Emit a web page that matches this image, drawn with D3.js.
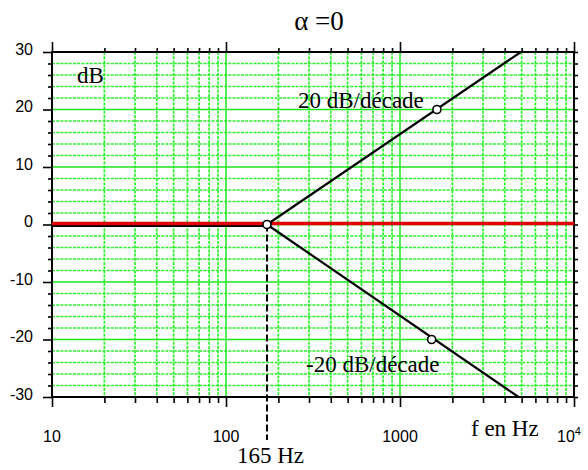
<!DOCTYPE html>
<html lang="en">
<head>
    <title>Bode</title>
    <script src="https://d3js.org/d3.v7.min.js"></script>
    <style>
        body { margin: 0; background: #fff; }
        .sans { font-family: "Liberation Sans", Arial, sans-serif; font-size: 16px; }
        .serif { font-family: "Liberation Serif", "Times New Roman", serif; font-size: 23px; }
    </style>
</head>
<body>

<script>
    // data
    const decades = [10, 100, 1000, 10000];
    const xLabels = ["10", "100", "1000", "10"];
    const yTicks = [-30, -20, -10, 0, 10, 20, 30];
    const cornerF = 172;
    const flatLine = [[10, 0], [cornerF, 0]];
    const refLine = [[10, 0], [10000, 0]];
    const riseLine = [[cornerF, 0], [4950, 30]];
    const fallLine = [[cornerF, 0], [4800, -30]];
    const markers = [[cornerF, 0], [1630, 20], [1520, -20]];

    const W = 588, H = 470;
    const x = d3.scaleLog().domain([10, 10000]).range([52, 574]);
    const y = d3.scaleLinear().domain([-30, 30]).range([397, 52]);

    const minorX = [];
    decades.slice(0, 3).forEach(d => { for (let k = 2; k <= 9; k++) minorX.push(k * d); });
    const minorY = d3.range(-28, 30, 2).filter(v => v % 10 !== 0);

    const svg = d3.select("body").append("svg").attr("width", W).attr("height", H);

    // grid
    const grid = svg.append("g");
    grid.selectAll(".mx").data(minorX).join("line")
        .attr("x1", d => x(d)).attr("x2", d => x(d)).attr("y1", y(30)).attr("y2", y(-30))
        .attr("stroke", "#2cf02c").attr("stroke-width", 1.7).attr("stroke-dasharray", "3,1.2");
    grid.selectAll(".my").data(minorY).join("line")
        .attr("y1", d => y(d)).attr("y2", d => y(d)).attr("x1", x(10)).attr("x2", x(10000))
        .attr("stroke", "#2cf02c").attr("stroke-width", 1.7).attr("stroke-dasharray", "3,1.2");
    grid.selectAll(".Mx").data(decades).join("line")
        .attr("x1", d => x(d)).attr("x2", d => x(d)).attr("y1", y(30)).attr("y2", y(-30))
        .attr("stroke", "#1ee61e").attr("stroke-width", 1.5);
    grid.selectAll(".My").data(yTicks).join("line")
        .attr("y1", d => y(d)).attr("y2", d => y(d)).attr("x1", x(10)).attr("x2", x(10000))
        .attr("stroke", "#1ee61e").attr("stroke-width", 1.5);

    // axes (ticks only; frame drawn after)
    function ticks(axis, vals, size, tr) {
        const g = svg.append("g").attr("transform", tr)
            .call(axis.tickValues(vals).tickSize(size).tickFormat(""));
        g.select(".domain").remove();
        g.selectAll(".tick line").attr("stroke", "#000").attr("stroke-width", 1.6);
    }
    ticks(d3.axisLeft(y), minorY, 4, "translate(52,0)");
    ticks(d3.axisLeft(y), yTicks, 9, "translate(52,0)");
    ticks(d3.axisRight(y), minorY.concat(yTicks), 4, "translate(574,0)");
    ticks(d3.axisTop(x), minorX, 4, "translate(0,52)");
    ticks(d3.axisTop(x), decades, 10, "translate(0,52)");
    ticks(d3.axisBottom(x), minorX, 6, "translate(0,397)");
    ticks(d3.axisBottom(x), decades, 10, "translate(0,397)");

    svg.append("rect").attr("x", x(10)).attr("y", y(30))
        .attr("width", x(10000) - x(10)).attr("height", y(-30) - y(30))
        .attr("fill", "none").attr("stroke", "#000").attr("stroke-width", 2);

    // labels
    svg.selectAll(".yl").data(yTicks).join("text").attr("class", "sans")
        .attr("x", 33).attr("y", d => y(d) - 3).attr("dy", "0.35em")
        .attr("text-anchor", "end").text(d => d);
    const xl = svg.selectAll(".xl").data(decades).join("text").attr("class", "sans")
        .attr("x", (d, i) => x(d) - (i === 3 ? 5 : 0)).attr("y", 442)
        .attr("text-anchor", "middle").text((d, i) => xLabels[i]);
    xl.filter((d, i) => i === 3).append("tspan")
        .attr("font-size", 11).attr("dy", -7).text("4");

    const line = d3.line().x(d => x(d[0])).y(d => y(d[1]));

    // curves
    svg.append("path").attr("d", line(flatLine)).attr("transform", "translate(0,1.5)")
        .attr("fill", "none").attr("stroke", "#000").attr("stroke-width", 2.2);
    svg.append("path").attr("d", line(refLine)).attr("transform", "translate(0,-1)")
        .attr("fill", "none").attr("stroke", "#e00000").attr("stroke-width", 3.5);
    svg.append("path").attr("d", line(riseLine))
        .attr("fill", "none").attr("stroke", "#000").attr("stroke-width", 2.2);
    svg.append("path").attr("d", line(fallLine))
        .attr("fill", "none").attr("stroke", "#000").attr("stroke-width", 2.2);
    svg.append("line").attr("x1", x(cornerF)).attr("x2", x(cornerF))
        .attr("y1", y(0)).attr("y2", 440)
        .attr("stroke", "#000").attr("stroke-width", 2).attr("stroke-dasharray", "7,3");

    svg.selectAll(".mk").data(markers).join("circle")
        .attr("cx", d => x(d[0])).attr("cy", d => y(d[1])).attr("r", 4)
        .attr("fill", "#fff").attr("stroke", "#000").attr("stroke-width", 1.6);

    // text annotations
    svg.append("text").attr("class", "serif").attr("x", 319).attr("y", 30)
        .attr("text-anchor", "middle").style("font-size", "27px").text("α =0");
    svg.append("text").attr("class", "serif").attr("x", 77).attr("y", 83).text("dB");
    svg.append("text").attr("class", "serif").attr("x", 298).attr("y", 108).text("20 dB/décade");
    svg.append("text").attr("class", "serif").attr("x", 306).attr("y", 372).text("-20 dB/décade");
    svg.append("text").attr("class", "serif").attr("x", 471).attr("y", 436).text("f en Hz");
    svg.append("text").attr("class", "serif").attr("x", 237).attr("y", 463).text("165 Hz");
</script>

</body>
</html>
